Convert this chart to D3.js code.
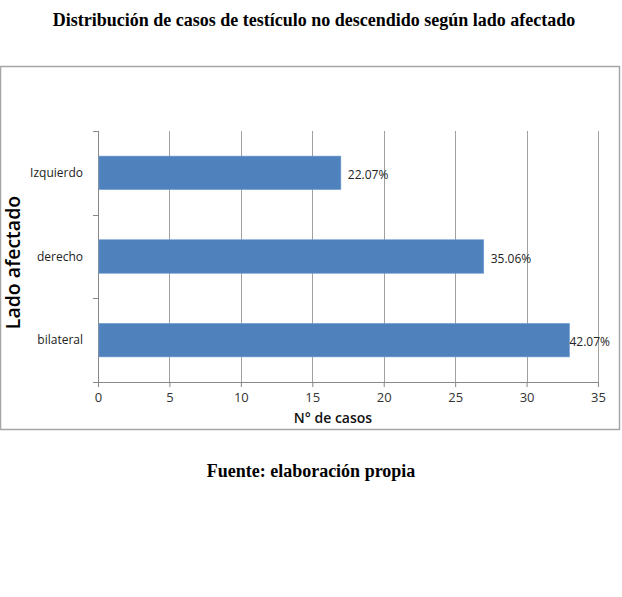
<!DOCTYPE html>
<html>
<head>
<meta charset="utf-8">
<script src="https://cdn.jsdelivr.net/npm/d3@7"></script>
<style>
  body { margin: 0; background: #fff; }
  .title { font-family: "Liberation Serif", serif; font-weight: bold; font-size: 18px; }
  .tick text { font-family: "Open Sans", sans-serif; fill: #333; }
  .bar-label { font-family: "Open Sans", sans-serif; font-size: 12px; fill: #222; }
  .axis-label { font-family: "Open Sans", sans-serif; }
</style>
</head>
<body>
<svg id="chart"></svg>
<script>
const categories = ['bilateral', 'derecho', 'Izquierdo'];
const casos = [33, 27, 17];
const porcentajes = ['42.07%', '35.06%', '22.07%'];
const xTicks = [0, 5, 10, 15, 20, 25, 30, 35];

const data = categories.map((c, i) => ({ lado: c, casos: casos[i], pct: porcentajes[i] }));

const width = 622, height = 597;
const margin = { top: 131, left: 98, right: 24, bottom: 215 };
const innerW = width - margin.left - margin.right;
const innerH = height - margin.top - margin.bottom;

const svg = d3.select('#chart')
    .attr('width', width)
    .attr('height', height);

// Title
svg.append('text')
    .attr('class', 'title')
    .attr('x', width / 2 + 3)
    .attr('y', 26)
    .attr('text-anchor', 'middle')
    .text('Distribución de casos de testículo no descendido según lado afectado');

// Chart frame
svg.append('rect')
    .attr('x', 0.5)
    .attr('y', 66.5)
    .attr('width', 619)
    .attr('height', 363)
    .attr('fill', 'none')
    .attr('stroke', '#a6a6a6')
    .attr('stroke-width', 1.5);

const chart = svg.append('g')
    .attr('transform', `translate(${margin.left},${margin.top})`);

const xScale = d3.scaleLinear()
    .domain([0, 35])
    .range([0, innerW]);

// bilateral at bottom
const yScale = d3.scaleBand()
    .domain(categories.slice().reverse())
    .range([0, innerH])
    .paddingInner(0.6)
    .paddingOuter(0.3);

// Gridlines
chart.append('g')
    .selectAll('line')
    .data(xTicks.slice(1))
  .join('line')
    .attr('x1', d => Math.round(xScale(d)) + 0.5)
    .attr('x2', d => Math.round(xScale(d)) + 0.5)
    .attr('y1', 0)
    .attr('y2', innerH)
    .attr('stroke', '#a0a0a0');

// X axis
const xAxis = d3.axisBottom(xScale)
    .tickValues(xTicks)
    .tickSize(5)
    .tickSizeOuter(0)
    .tickPadding(6);

const xAxisG = chart.append('g')
    .attr('transform', `translate(0,${innerH})`)
    .call(xAxis);
xAxisG.select('.domain').attr('stroke', '#888');
xAxisG.selectAll('.tick line').attr('stroke', '#888');
xAxisG.selectAll('.tick text').attr('font-size', 13);

// Y axis with ticks at band boundaries
const yAxisG = chart.append('g');
yAxisG.append('line')
    .attr('x1', 0.5).attr('x2', 0.5)
    .attr('y1', 0).attr('y2', innerH)
    .attr('stroke', '#888');
const step = innerH / categories.length;
yAxisG.selectAll('.ytick')
    .data(d3.range(categories.length + 1))
  .join('line')
    .attr('class', 'ytick')
    .attr('x1', -5).attr('x2', 0)
    .attr('y1', d => Math.round(d * step) + 0.5)
    .attr('y2', d => Math.round(d * step) + 0.5)
    .attr('stroke', '#888');

yAxisG.selectAll('.cat')
    .data(categories)
  .join('text')
    .attr('class', 'bar-label')
    .attr('x', -15)
    .attr('y', d => yScale(d) + yScale.bandwidth() / 2)
    .attr('dy', '0.35em')
    .attr('text-anchor', 'end')
    .text(d => d);

// Bars
chart.append('g')
    .selectAll('rect')
    .data(data)
  .join('rect')
    .attr('x', 1)
    .attr('y', d => yScale(d.lado))
    .attr('width', d => xScale(d.casos) - 1)
    .attr('height', yScale.bandwidth())
    .attr('fill', '#4f81bd')
    .attr('stroke', '#6d9bd3')
    .attr('stroke-width', 0.6);

// Data labels
chart.append('g')
    .selectAll('text')
    .data(data)
  .join('text')
    .attr('class', 'bar-label')
    .attr('x', d => xScale(d.casos) + (d.casos > 30 ? 0 : 7))
    .attr('y', d => yScale(d.lado) + yScale.bandwidth() / 2 + 2)
    .attr('dy', '0.35em')
    .text(d => d.pct);

// Axis titles
chart.append('text')
    .attr('class', 'axis-label')
    .attr('x', innerW / 2 - 15)
    .attr('y', innerH + 41)
    .attr('text-anchor', 'middle')
    .attr('font-size', 14)
    .attr('font-weight', 600)
    .attr('fill', '#111')
    .text('N° de casos');

svg.append('text')
    .attr('class', 'axis-label')
    .attr('transform', `translate(20,${margin.top + innerH / 2 + 6}) rotate(-90)`)
    .attr('text-anchor', 'middle')
    .attr('font-size', 19.5)
    .attr('font-weight', 600)
    .attr('fill', '#000')
    .text('Lado afectado');

// Source
svg.append('text')
    .attr('class', 'title')
    .attr('x', width / 2)
    .attr('y', 477)
    .attr('text-anchor', 'middle')
    .text('Fuente: elaboración propia');
</script>
</body>
</html>
